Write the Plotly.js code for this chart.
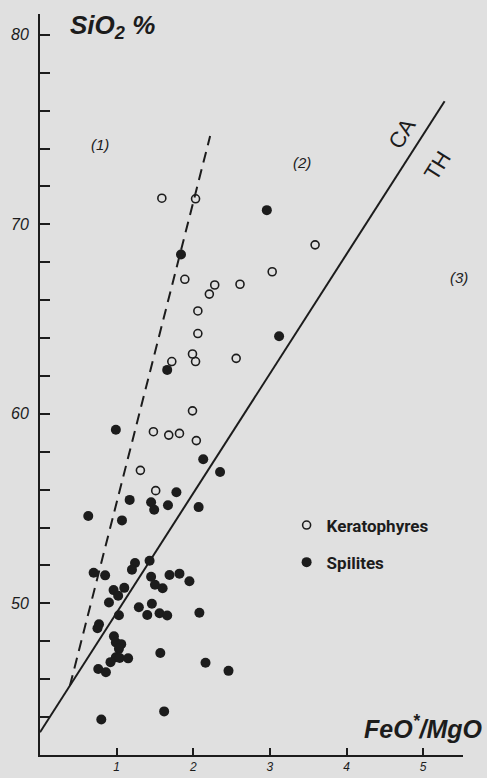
<!DOCTYPE html>
<html>
<head>
<meta charset="utf-8">
<script src="https://cdn.plot.ly/plotly-3.0.1.min.js"></script>
<style>
  html, body { margin: 0; padding: 0; background: #e0e0e0; }
  #chart { width: 487px; height: 778px; }
</style>
</head>
<body>
<div id="chart"></div>
<script>
// Keratophyres (open circles): FeO*/MgO and SiO2 %
const keratoX = [1.59, 2.03, 3.59, 3.03, 1.89, 2.28, 2.61, 2.21, 2.06, 2.06, 1.72, 1.99, 2.03, 2.56, 1.99, 1.48, 1.68, 1.82, 2.04, 1.31, 1.51];
const keratoY = [71.38, 71.35, 68.92, 67.5, 67.1, 66.8, 66.84, 66.32, 65.43, 64.24, 62.76, 63.16, 62.76, 62.93, 60.16, 59.06, 58.88, 58.97, 58.59, 57.02, 55.95];

// Spilites (filled circles)
const spiliteX = [2.96, 1.84, 3.12, 1.66, 0.99, 2.13, 2.35, 1.17, 1.78, 1.45, 1.49, 1.67, 2.07, 0.63, 1.07,
  1.24, 1.20, 1.43, 0.70, 0.85, 1.45, 1.69, 1.82, 1.95, 1.50, 1.60, 0.96, 1.02, 1.10, 0.90,
  1.46, 1.29, 1.03, 1.40, 1.56, 1.66, 2.08, 0.77, 0.75, 0.965, 0.99, 1.06, 1.03, 0.99, 0.92,
  1.04, 1.15, 0.76, 0.86, 1.57, 2.16, 2.46, 1.62, 0.80];
const spiliteY = [70.75, 68.41, 64.1, 62.32, 59.16, 57.61, 56.93, 55.46, 55.86, 55.34, 54.94, 55.18, 55.08, 54.61, 54.38,
  52.13, 51.78, 52.25, 51.62, 51.48, 51.41, 51.5, 51.57, 51.17, 50.98, 50.8, 50.7, 50.4, 50.82, 50.05,
  49.98, 49.8, 49.37, 49.39, 49.48, 49.36, 49.51, 48.9, 48.69, 48.26, 47.94, 47.85, 47.6, 47.16, 46.9,
  47.12, 47.1, 46.54, 46.37, 47.38, 46.87, 46.44, 44.3, 43.87];

// Boundary lines
const caThX = [0, 5.28];
const caThY = [43.2, 76.5];
const dashX = [0.39, 2.22];
const dashY = [45.65, 74.66];

// Axis ticks
const xTickVals = [1, 2, 3, 4, 5];
const xTickText = ['1', '2', '3', '4', '5'];
const yTickVals = [50, 60, 70, 80];
const yTickText = ['50', '60', '70', '80'];
const yMinorTickVals = [44, 46, 48, 52, 54, 56, 58, 62, 64, 66, 68, 72, 74, 76, 78];

const ink = '#1c1c1c';
const serifless = 'Liberation Sans, Arial, sans-serif';
const yTickFont = { family: serifless, size: 16, color: ink, style: 'italic' };
const xTickFont = { family: serifless, size: 12, color: ink, style: 'italic' };

const traces = [
  { x: caThX, y: caThY, mode: 'lines', line: { color: ink, width: 2 }, showlegend: false, hoverinfo: 'skip' },
  { x: dashX, y: dashY, mode: 'lines', line: { color: ink, width: 2, dash: '11px,7px' }, showlegend: false, hoverinfo: 'skip' },
  { x: keratoX, y: keratoY, mode: 'markers', name: 'Keratophyres', legendgroup: 'k',
    marker: { symbol: 'circle-open', size: 8, color: ink, line: { width: 1.6, color: ink } } },
  { x: spiliteX, y: spiliteY, mode: 'markers', name: 'Spilites', legendgroup: 's',
    marker: { symbol: 'circle', size: 10, color: ink } }
];

const layout = {
  width: 487, height: 778,
  margin: { l: 40, r: 24, t: 14, b: 23 },
  paper_bgcolor: '#e0e0e0',
  plot_bgcolor: '#e0e0e0',
  showlegend: true,
  legend: {
    x: 0.583, xanchor: 'left', y: 0.334, yanchor: 'top',
    bgcolor: 'rgba(0,0,0,0)',
    font: { family: 'Roboto, Liberation Sans, sans-serif', size: 17, color: ink, weight: 'bold' },
    tracegroupgap: 12
  },
  xaxis: {
    range: [0, 5.52], showgrid: false, zeroline: false,
    showline: true, linecolor: ink, linewidth: 2,
    ticks: 'inside', ticklen: 7, tickwidth: 2, tickcolor: ink,
    tickvals: xTickVals, ticktext: xTickText, tickfont: xTickFont
  },
  yaxis: {
    range: [42, 81.1], showgrid: false, zeroline: false,
    showline: true, linecolor: ink, linewidth: 2,
    ticks: 'inside', ticklen: 10, tickwidth: 2, tickcolor: ink,
    ticklabelstandoff: 6,
    tickvals: yTickVals, ticktext: yTickText, tickfont: yTickFont,
    minor: { tickvals: yMinorTickVals, ticks: 'inside', ticklen: 10, tickwidth: 2, tickcolor: ink, showgrid: false }
  },
  annotations: [
    { x: 0.36, y: 80.45, xref: 'x', yref: 'y', xanchor: 'left', yanchor: 'middle', showarrow: false,
      text: '<b><i>SiO<sub>2</sub> %</i></b>',
      font: { family: serifless, size: 26, color: ink } },
    { x: 1.05, y: 0.038, xref: 'paper', yref: 'paper', xanchor: 'right', yanchor: 'middle', showarrow: false,
      text: '<b><i>FeO<sup>*</sup>/MgO</i></b>',
      font: { family: serifless, size: 25, color: ink } },
    { x: 0.78, y: 74.24, xref: 'x', yref: 'y', showarrow: false, text: '<i>(1)</i>',
      font: { family: serifless, size: 15, color: ink } },
    { x: 3.42, y: 73.25, xref: 'x', yref: 'y', showarrow: false, text: '<i>(2)</i>',
      font: { family: serifless, size: 15, color: ink } },
    { x: 1.017, y: 0.645, xref: 'paper', yref: 'paper', showarrow: false, text: '<i>(3)</i>',
      font: { family: serifless, size: 15, color: ink } },
    { x: 4.72, y: 74.82, xref: 'x', yref: 'y', showarrow: false, text: 'CA', textangle: -58,
      font: { family: serifless, size: 22, color: ink } },
    { x: 5.19, y: 73.09, xref: 'x', yref: 'y', showarrow: false, text: 'TH', textangle: -58,
      font: { family: serifless, size: 22, color: ink } }
  ]
};

Plotly.newPlot('chart', traces, layout, { displayModeBar: false, staticPlot: true });
</script>
</body>
</html>
